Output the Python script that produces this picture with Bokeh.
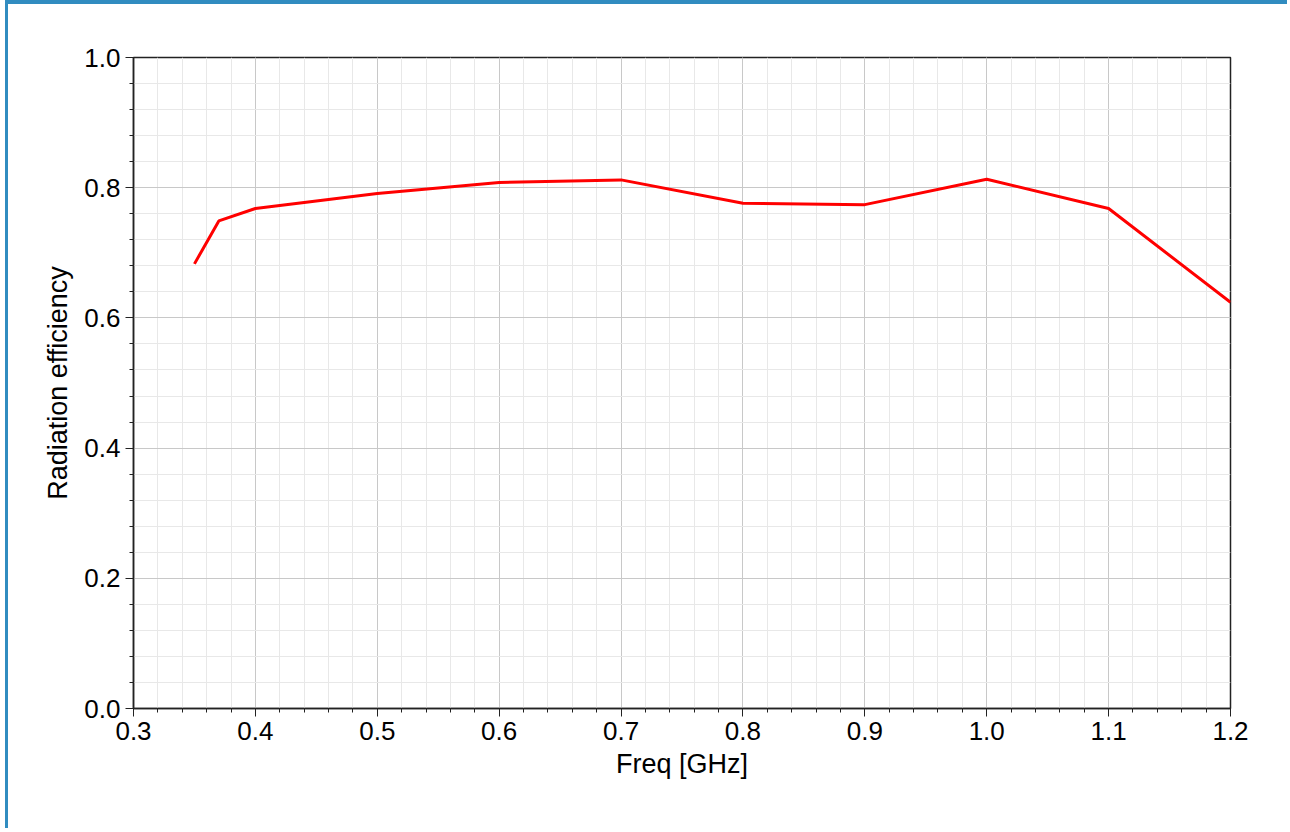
from bokeh.plotting import figure
from bokeh.models import FixedTicker, Range1d, PrintfTickFormatter
from bokeh.embed import file_html
from bokeh.resources import INLINE

freq = [0.35, 0.37, 0.4, 0.5, 0.6, 0.7, 0.8, 0.9, 1.0, 1.1, 1.2]
efficiency = [0.683, 0.749, 0.768, 0.791, 0.808, 0.812, 0.776, 0.774, 0.813, 0.768, 0.624]
x_ticks = [0.3, 0.4, 0.5, 0.6, 0.7, 0.8, 0.9, 1.0, 1.1, 1.2]
y_ticks = [0.0, 0.2, 0.4, 0.6, 0.8, 1.0]
x_minor = [round(0.3 + 0.02 * i, 2) for i in range(46)]
y_minor = [round(0.04 * i, 2) for i in range(26)]

FONT = "Liberation Sans"

p = figure(width=1282, height=828, output_backend="svg", toolbar_location=None,
           x_range=Range1d(0.3, 1.2), y_range=Range1d(0.0, 1.0),
           min_border_left=125, min_border_right=60, min_border_top=53, min_border_bottom=124)
p.styles = {"border-top": "4px solid #318cc0", "border-left": "3px solid #318cc0",
            "margin-left": "5px"}
p.background_fill_color = "white"
p.border_fill_color = "white"
p.outline_line_color = "#222222"
p.outline_line_width = 1.5

p.xaxis.ticker = FixedTicker(ticks=x_ticks, minor_ticks=x_minor)
p.yaxis.ticker = FixedTicker(ticks=y_ticks, minor_ticks=y_minor)
p.xaxis.formatter = PrintfTickFormatter(format="%.1f")
p.yaxis.formatter = PrintfTickFormatter(format="%.1f")

for ax in (p.xaxis[0], p.yaxis[0]):
    ax.axis_line_color = "#222222"
    ax.axis_line_width = 1.5
    ax.major_tick_line_color = "#222222"
    ax.minor_tick_line_color = "#222222"
    ax.major_tick_out = 8
    ax.major_tick_in = 0
    ax.minor_tick_out = 4
    ax.minor_tick_in = 0
    ax.major_label_text_font = FONT
    ax.major_label_text_font_size = "26px"
    ax.major_label_text_color = "black"
    ax.axis_label_text_font = FONT
    ax.axis_label_text_font_size = "27px"
    ax.axis_label_text_font_style = "normal"
    ax.axis_label_text_color = "black"

p.xaxis.axis_label = "Freq [GHz]"
p.yaxis.axis_label = "Radiation efficiency"
p.xaxis.major_label_standoff = 5
p.yaxis.major_label_standoff = 5
p.xaxis.axis_label_standoff = 6
p.yaxis.axis_label_standoff = 8

p.xgrid.grid_line_color = "#c8c8c8"
p.ygrid.grid_line_color = "#c8c8c8"
p.xgrid.minor_grid_line_color = "#e8e8e8"
p.ygrid.minor_grid_line_color = "#e8e8e8"
p.xgrid.grid_line_width = 1
p.ygrid.grid_line_width = 1

p.line(freq, efficiency, line_color="#ff0000", line_width=3)

open("out.html", "w").write(file_html(p, INLINE))
